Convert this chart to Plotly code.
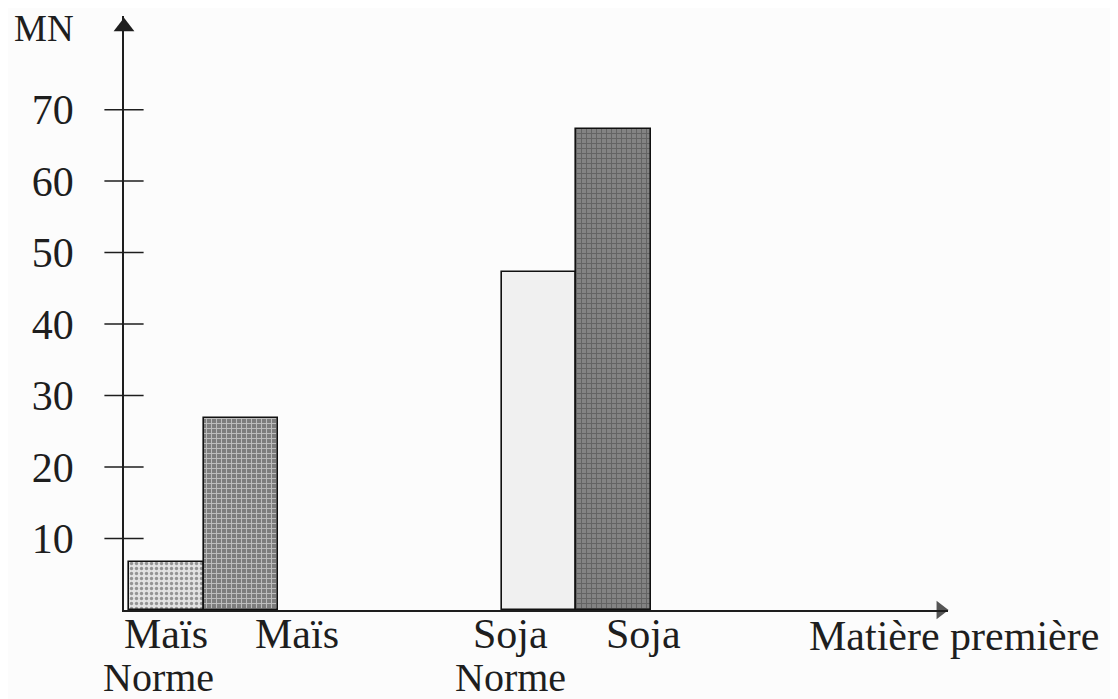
import plotly.graph_objects as go

# ---- data ----
categories = ["Maïs Norme", "Maïs", "Soja Norme", "Soja"]
values = [6.7, 26.9, 47.3, 67.3]
y_ticks = [10, 20, 30, 40, 50, 60, 70]
y_title = "MN"
x_title = "Matière première"

# ---- layout helpers (positions / styles) ----
bar_x = [0.57, 1.57, 5.57, 6.57]
fills = ["#e2e2e2", "#7d7d7d", "#f0f0f0", "#838383"]
patterns = [".", "+", "", "+"]
pat_fg = ["#8e8e8e", "#5e5e5e", "#e0e0e0", "#646464"]
X_MAX = 11.06
Y_MAX = 83.1
FONT = "Liberation Serif"
INK = "#1e1e1e"
BG = "#fcfcfc"

# plot area in reference pixels (page has an 8px body margin)
PL, PR, PB = 124, 948, 610
PW = PR - PL
PH = PB - 16

fig = go.Figure()
fig.add_trace(go.Bar(
    x=bar_x, y=values, width=1.0,
    marker=dict(color=fills, line=dict(color="#111", width=1.6),
                pattern=dict(shape=patterns, fgcolor=pat_fg, size=5, solidity=0.35)),
    hovertext=categories, showlegend=False,
))

# crossing tick marks on y axis
fig.add_trace(go.Scatter(
    x=[0] * len(y_ticks), y=y_ticks, mode="markers", cliponaxis=False,
    marker=dict(symbol="line-ew", size=28, line=dict(color=INK, width=1.5)),
    showlegend=False, hoverinfo="skip"))

# arrowheads
fig.add_trace(go.Scatter(
    x=[0], y=[81.6], mode="markers", cliponaxis=False,
    marker=dict(symbol="triangle-up", size=18, color=INK), showlegend=False, hoverinfo="skip"))
fig.add_trace(go.Scatter(
    x=[10.96], y=[0], mode="markers", cliponaxis=False,
    marker=dict(symbol="triangle-right", size=16, color="#555"), showlegend=False, hoverinfo="skip"))

# category labels (two lines, placed individually) : (text, ref px x, ref px y, size)
label_rows = [
    ("Maïs", 166, 634, 42), ("Norme", 158, 677, 40),
    ("Maïs", 297, 634, 42),
    ("Soja", 510, 634, 42), ("Norme", 510, 677, 40),
    ("Soja", 643, 634, 42),
    (x_title, 954, 636, 42),
    (y_title, 44, 29, 37),
]
for txt, px, py, fs in label_rows:
    fig.add_annotation(x=(px - PL) / PW, xref="paper", xanchor="center",
                       y=(PB - py) / PH, yref="paper", yanchor="middle",
                       text=txt, showarrow=False,
                       font=dict(family=FONT, size=fs, color=INK))

fig.update_layout(
    width=1110, height=691,
    margin=dict(l=PL - 8, r=1118 - PR, t=16 - 8, b=699 - PB, pad=0),
    paper_bgcolor=BG, plot_bgcolor=BG,
    bargap=0,
    xaxis=dict(range=[0, X_MAX], showgrid=False, zeroline=False, showticklabels=False,
               showline=True, linecolor=INK, linewidth=1.5, ticks=""),
    yaxis=dict(range=[0, Y_MAX], showgrid=False, zeroline=False, tickvals=y_ticks,
               ticks="", showline=True, linecolor=INK, linewidth=1.6,
               ticklabelstandoff=40,
               tickfont=dict(family=FONT, size=42, color=INK)),
)

fig.write_html("out.html")
